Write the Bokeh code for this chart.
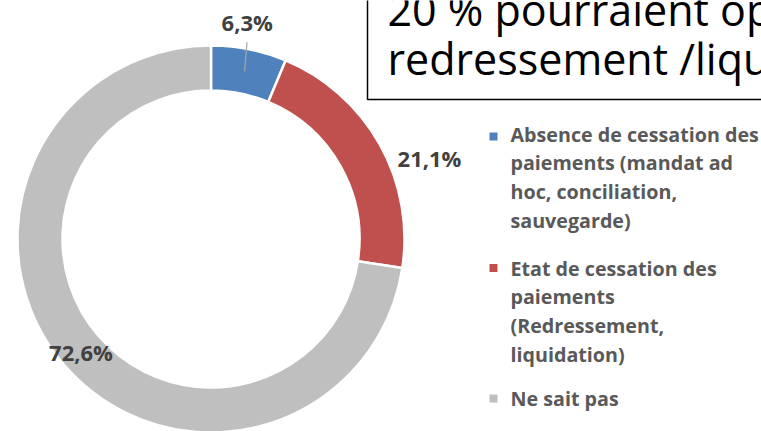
import numpy as np
from bokeh.plotting import figure
from bokeh.models import Range1d
from bokeh.core.properties import value
from bokeh.embed import file_html
from bokeh.resources import INLINE

# ---- data ----
categories = ["Absence de cessation des paiements (mandat ad hoc, conciliation, sauvegarde)",
              "Etat de cessation des paiements (Redressement, liquidation)",
              "Ne sait pas"]
legend_lines = [["Absence de cessation des", "paiements (mandat ad", "hoc, conciliation,", "sauvegarde)"],
                ["Etat de cessation des", "paiements", "(Redressement,", "liquidation)"],
                [" Ne sait pas"]]
values = [6.3, 21.1, 72.6]
labels = ["6,3%", "21,1%", "72,6%"]
colors = ["#4F81BD", "#C0504D", "#BFBFBF"]
title_lines = ["20 % pourraient opter pour un", "redressement /liquidation"]

# ---- layout (screen coords of the 761x431 picture) ----
W, H = 761, 431
def X(sx):
    return sx
def Y(sy):
    return H - sy

CX, CY = 210.5, 238.5
R_IN, R_OUT = 148.5, 193.5

p = figure(width=W, height=H, x_range=Range1d(0, W), y_range=Range1d(0, H),
           output_backend="svg", toolbar_location=None, min_border=0,
           x_axis_location=None, y_axis_location=None)
p.grid.visible = False
p.outline_line_color = None
p.background_fill_color = "white"
p.border_fill_color = "white"

vals = np.array(values, dtype=float)
frac = vals / vals.sum()
cum = np.concatenate([[0.0], np.cumsum(frac)])
a_start = np.pi / 2 - 2 * np.pi * cum[:-1]
a_end = np.pi / 2 - 2 * np.pi * cum[1:]

p.annular_wedge(x=[X(CX)] * 3, y=[Y(CY)] * 3,
                inner_radius=R_IN, outer_radius=R_OUT,
                inner_radius_units="screen", outer_radius_units="screen",
                start_angle=a_end, end_angle=a_start, direction="anticlock",
                fill_color=colors, line_color="white", line_width=2.5)

# leader line for first slice
mid0 = (a_start[0] + a_end[0]) / 2
p.segment(x0=[X(CX) + 171 * np.cos(mid0)], y0=[Y(CY) + 171 * np.sin(mid0)],
          x1=[X(CX) + 200 * np.cos(mid0 + 0.017)], y1=[Y(CY) + 200 * np.sin(mid0 + 0.017)],
          line_color="#A6A6A6", line_width=1.2)

# data labels
lab_x = [246.7, 429.0, 80.5]
lab_y = [21.0, 157.8, 351.2]
p.text(x=[X(v) for v in lab_x], y=[Y(v) for v in lab_y], text=labels,
       text_font=value("Open Sans"), text_font_style="bold", text_font_size="22px",
       text_color="#404040", text_align="center", text_baseline="alphabetic")

# legend
first_base = [133.5, 267.5, 397.5]
marker_y = [136.0, 267.5, 398.0]
step = 28.7
lx, ly, lt = [], [], []
for i, lines in enumerate(legend_lines):
    for j, line in enumerate(lines):
        lx.append(X(510))
        ly.append(Y(first_base[i] + j * step))
        lt.append(line)
p.text(x=lx, y=ly, text=lt, text_font=value("Open Sans"), text_font_style="bold",
       text_font_size="19.7px", text_color="#595959", text_align="left",
       text_baseline="alphabetic")
p.scatter(x=[X(493)] * 3, y=[Y(v) for v in marker_y], marker="square",
          size=8, fill_color=colors, line_color=None)

# title box (cut by the picture's edges)
p.quad(left=[X(367)], right=[X(900)], top=[Y(-40)], bottom=[Y(99)],
       fill_color=None, line_color="black", line_width=1.5)
p.text(x=[X(387), X(387)], y=[Y(9), Y(58)], text=title_lines,
       text_font=value("Open Sans"), text_font_size="43px", text_color="black",
       text_align="left", text_baseline="alphabetic")

open("out.html", "w").write(file_html(p, INLINE))
